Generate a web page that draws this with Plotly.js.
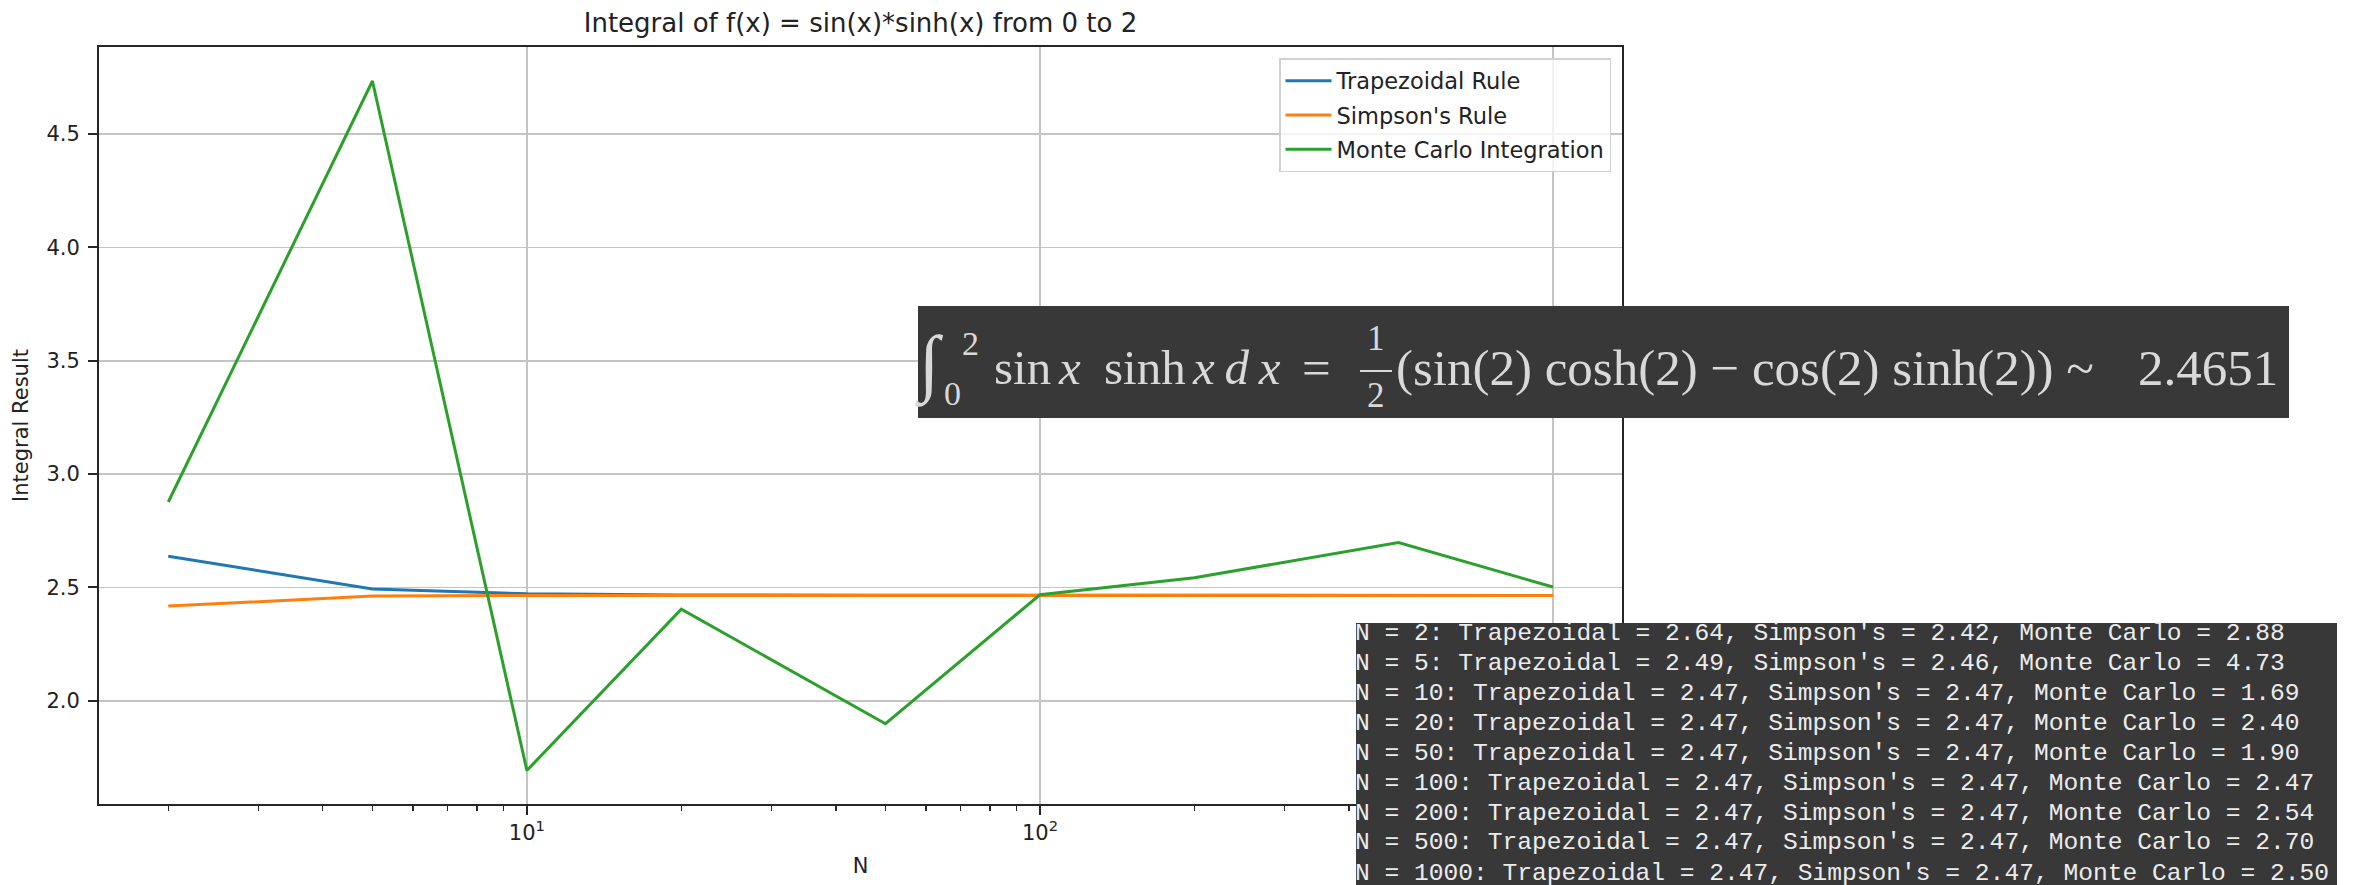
<!DOCTYPE html>
<html><head><meta charset="utf-8">
<script src="https://cdn.plot.ly/plotly-3.0.1.min.js"></script>
<style>html,body{margin:0;padding:0;background:#fff;} #chart{width:2359px;height:885px;}</style>
</head><body><div id="chart"></div>
<script>
// ---- data ----
const N_VALUES = [2, 5, 10, 20, 50, 100, 200, 500, 1000];
const TRAPEZOIDAL = [2.638, 2.493, 2.472, 2.467, 2.4654, 2.4652, 2.4651, 2.4651, 2.4651];
const SIMPSON = [2.418, 2.462, 2.4652, 2.4651, 2.4651, 2.4651, 2.4651, 2.4651, 2.4651];
const MONTE_CARLO = [2.877, 4.734, 1.693, 2.404, 1.899, 2.468, 2.543, 2.698, 2.502];
const SERIES_NAMES = ['Trapezoidal Rule', "Simpson's Rule", 'Monte Carlo Integration'];
const X_TICK_VALUES = [10, 100, 1000];
const X_TICK_LABELS = ['10<sup>1</sup>', '10<sup>2</sup>', '10<sup>3</sup>'];
const Y_TICK_VALUES = [2.0, 2.5, 3.0, 3.5, 4.0, 4.5];
const TITLE = 'Integral of f(x) = sin(x)*sinh(x) from 0 to 2';
const X_LABEL = 'N';
const Y_LABEL = 'Integral Result';
const EXACT_VALUE = '2.4651';

// ---- layout helpers (pixel -> paper) ----
const W = 2359, H = 885, L = 99, R = 1622, T = 47, B = 804;
const px = x => (x - L) / (R - L);
const py = y => (B - y) / (B - T);
const COLORS = ['#1f77b4', '#ff7f0e', '#2ca02c'];
const SERIES = [TRAPEZOIDAL, SIMPSON, MONTE_CARLO];

const traces = SERIES.map((ys, i) => ({
  x: N_VALUES, y: ys, type: 'scatter', mode: 'lines', name: SERIES_NAMES[i],
  legendgroup: 'g' + i,
  line: {color: COLORS[i], width: 3}
}));

const minorTicks = [];
for (const dec of [1, 10, 100]) for (let k = 2; k <= 9; k++) minorTicks.push(k * dec);

const BOX = '#383838', FTXT = '#d9d9d9', MTXT = '#ececec';
const serif = 'Liberation Serif, Times New Roman, serif';
const mono = 'Liberation Mono, Courier New, monospace';

function ann(text, x, y, size, family, color, xanchor) {
  return {text, x: px(x), y: py(y), xref: 'paper', yref: 'paper', showarrow: false,
    xanchor: xanchor || 'left', yanchor: 'middle', font: {family, size, color}};
}

const annotations = [
  ann('∫', 929, 364, 74, serif, FTXT, 'center'),
  ann('2', 970, 343, 34, serif, FTXT, 'center'),
  ann('0', 953, 393, 34, serif, FTXT, 'center'),
  ann('sin', 992, 368, 49, serif, FTXT),
  ann('<i>x</i>', 1056, 368, 49, serif, FTXT),
  ann('sinh', 1102, 368, 49, serif, FTXT),
  ann('<i>x\u2009d\u2009x</i>', 1190, 368, 49, serif, FTXT),
  ann('=', 1300, 368, 51, serif, FTXT),
  ann('1', 1376, 338, 35, serif, FTXT, 'center'),
  ann('2', 1376, 395, 35, serif, FTXT, 'center'),
  ann('(sin(2) cosh(2) − cos(2) sinh(2)) ~', 1394, 368, 51, serif, FTXT),
  ann(EXACT_VALUE, 2136, 368, 51, serif, FTXT)
];

N_VALUES.forEach((n, i) => {
  const line = `N = ${n}: Trapezoidal = ${TRAPEZOIDAL[i].toFixed(2)}, Simpson's = ${SIMPSON[i].toFixed(2)}, Monte Carlo = ${MONTE_CARLO[i].toFixed(2)}`;
  annotations.push(ann(line, 1353, 633 + i * 30, 24.6, mono, MTXT));
});

const shapes = [
  {type: 'rect', xref: 'paper', yref: 'paper', x0: px(918), x1: px(2289), y0: py(418), y1: py(306),
   fillcolor: BOX, line: {width: 0}, layer: 'above'},
  {type: 'rect', xref: 'paper', yref: 'paper', x0: px(1356), x1: px(2337), y0: py(890), y1: py(623),
   fillcolor: BOX, line: {width: 0}, layer: 'above'},
  {type: 'line', xref: 'paper', yref: 'paper', x0: px(1360), x1: px(1392), y0: py(371), y1: py(371),
   line: {color: FTXT, width: 2}, layer: 'above'}
];

const axisFont = {family: 'DejaVu Sans', size: 21, color: '#222'};
const layout = {
  width: W, height: H,
  margin: {l: L, r: W - R, t: T, b: H - B, pad: 0},
  paper_bgcolor: '#fff', plot_bgcolor: '#fff',
  title: {text: TITLE, x: (L + R) / 2 / W, xanchor: 'center', y: 1 - 23 / H, yanchor: 'middle',
          font: {family: 'DejaVu Sans', size: 26, color: '#222'}},
  xaxis: {
    type: 'log', range: [0.166, 3.1345],
    tickmode: 'array', tickvals: X_TICK_VALUES, ticktext: X_TICK_LABELS,
    ticks: 'outside', ticklen: 9, tickwidth: 2, tickcolor: '#262626',
    tickfont: axisFont, showgrid: true, gridcolor: '#c4c4c4', gridwidth: 1.8,
    zeroline: false, showline: true, mirror: true, linecolor: '#262626', linewidth: 2,
    minor: {tickmode: 'array', tickvals: minorTicks, ticks: 'outside', ticklen: 5, tickwidth: 1.5,
            tickcolor: '#262626', showgrid: false},
    title: {text: X_LABEL, font: axisFont, standoff: 14}
  },
  yaxis: {
    range: [1.545, 4.884], tickmode: 'array', tickvals: Y_TICK_VALUES, tickformat: '.1f',
    ticks: 'outside', ticklen: 9, tickwidth: 2, tickcolor: '#262626', ticklabelstandoff: 4,
    tickfont: axisFont, showgrid: true, gridcolor: '#c4c4c4', gridwidth: 1.8,
    zeroline: false, showline: true, mirror: true, linecolor: '#262626', linewidth: 2,
    title: {text: Y_LABEL, font: axisFont, standoff: 12}
  },
  legend: {x: px(1611), xanchor: 'right', y: py(58), yanchor: 'top',
           bgcolor: 'rgba(255,255,255,0.8)', bordercolor: '#d0d0d0', borderwidth: 1.5,
           font: {family: 'DejaVu Sans', size: 22.5, color: '#222'}, tracegroupgap: 2, itemwidth: 46},
  showlegend: true,
  shapes, annotations
};

Plotly.newPlot('chart', traces, layout, {staticPlot: true, displayModeBar: false});
</script>
</body></html>
